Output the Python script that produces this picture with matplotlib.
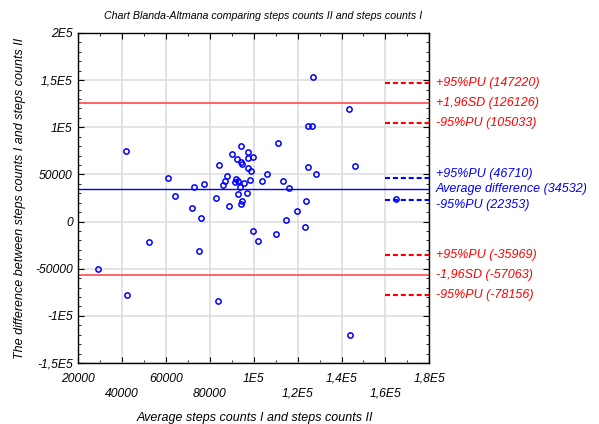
import matplotlib
matplotlib.use("Agg")
import matplotlib.pyplot as plt
from matplotlib.ticker import MultipleLocator

plt.rcParams["font.family"] = ["Liberation Sans", "DejaVu Sans"]
plt.rcParams["font.style"] = "italic"

# averages (x) and differences (y)
avg_steps = [126800, 143500, 124500, 126400, 41800, 111200, 94100, 90000, 97300, 99800,
             92400, 97300, 94100, 94700, 84200, 97300, 98800, 124700, 146000, 106100,
             128300, 60900, 88000, 86800, 92000, 92900, 91500, 98300, 103900, 113300,
             85800, 77100, 72900, 95600, 93500, 115900, 64100, 93000, 96700, 82600,
             94700, 94100, 88900, 123600, 71800, 119500, 76100, 114700, 123200, 99800,
             110100, 102000, 52100, 75000, 28800, 42300, 83800, 143900, 165000]
diff_steps = [153000, 119900, 101500, 101500, 74800, 83200, 79700, 71200, 73700, 68800,
              66300, 67300, 62800, 61000, 59900, 56400, 53600, 57800, 58900, 50400,
              50400, 46500, 48000, 43400, 45100, 42700, 41600, 44400, 43000, 43000,
              39100, 39500, 37000, 40500, 36700, 36000, 27200, 29300, 30700, 24700,
              22200, 18300, 16200, 22200, 14800, 11300, 3900, 1400, -6000, -9500,
              -13400, -20800, -21900, -31700, -50100, -78300, -84300, -119900, 23900]

mean_diff = 34532
sd_upper = 126126
sd_lower = -57063
# 95% limits (lower, upper) of each line
mean_pu = (22353, 46710)
upper_pu = (105033, 147220)
lower_pu = (-78156, -35969)

x_ticks = [20000, 40000, 60000, 80000, 100000, 120000, 140000, 160000, 180000]
x_tick_labels = ["20000", "40000", "60000", "80000", "1E5", "1,2E5", "1,4E5", "1,6E5", "1,8E5"]
y_ticks = [-150000, -100000, -50000, 0, 50000, 100000, 150000, 200000]
y_tick_labels = ["-1,5E5", "-1E5", "-50000", "0", "50000", "1E5", "1,5E5", "2E5"]

RED = "#ff0000"
RED_LINE = "#ff4a4a"
BLUE = "#0000ff"

fig = plt.figure(figsize=(5.99, 4.24), dpi=100)
ax = fig.add_axes([0.1307, 0.1439, 0.5860, 0.7783])

ax.grid(True, which="major", color="#dedede", lw=1.2, zorder=0)
ax.set_axisbelow(True)

ax.axhline(sd_upper, color=RED_LINE, lw=1.2, zorder=2)
ax.axhline(sd_lower, color=RED_LINE, lw=1.2, zorder=2)
ax.axhline(mean_diff, color=BLUE, lw=1.0, zorder=2)

dash = (0, (2.4, 1.4))
for y in upper_pu + lower_pu:
    ax.hlines(y, 160000, 180000, colors=RED, lw=1.5, linestyles=dash, zorder=3)
for y in mean_pu:
    ax.hlines(y, 160000, 180000, colors=BLUE, lw=1.5, linestyles=dash, zorder=3)

ax.plot(avg_steps, diff_steps, "o", ms=3.8, mfc="none", mec=BLUE, mew=1.1, zorder=4)

ax.set_xlim(20000, 180000)
ax.set_ylim(-150000, 200000)
ax.set_xticks(x_ticks)
ax.set_xticklabels(x_tick_labels)
ax.set_yticks(y_ticks)
ax.set_yticklabels(y_tick_labels)
ax.xaxis.set_minor_locator(MultipleLocator(10000))
ax.yaxis.set_minor_locator(MultipleLocator(10000))
ax.tick_params(which="both", direction="in", top=True, right=True, labelsize=8.7)
ax.tick_params(which="major", length=4)
ax.tick_params(which="minor", length=2.5)
ax.tick_params(axis="y", pad=4)
for i, t in enumerate(ax.xaxis.get_major_ticks()):
    t.set_pad(7 if i % 2 == 0 else 18)
for s in ax.spines.values():
    s.set_linewidth(1.0)

# labels on the right of the plot
tr = ax.get_yaxis_transform()
right_labels = [
    ("+95%PU ({})".format(upper_pu[1]), upper_pu[1], RED, 0),
    ("+1,96SD ({})".format(sd_upper), sd_upper, RED, 0),
    ("-95%PU ({})".format(upper_pu[0]), upper_pu[0], RED, 0),
    ("+95%PU ({})".format(mean_pu[1]), mean_pu[1], BLUE, 2.6),
    ("Average difference ({})".format(mean_diff), mean_diff, BLUE, 0),
    ("-95%PU ({})".format(mean_pu[0]), mean_pu[0], BLUE, -3.6),
    ("+95%PU ({})".format(lower_pu[1]), lower_pu[1], RED, 0),
    ("-1,96SD ({})".format(sd_lower), sd_lower, RED, 0),
    ("-95%PU ({})".format(lower_pu[0]), lower_pu[0], RED, 0),
]
for text, y, c, dy in right_labels:
    ax.annotate(text, xy=(1, y), xycoords=tr, xytext=(4.5, dy), textcoords="offset points",
                ha="left", va="center", color=c, fontsize=9, annotation_clip=False)

fig.text(0.439, 0.962, "Chart Blanda-Altmana comparing steps counts II and steps counts I",
         ha="center", va="center", fontsize=7.7)
fig.text(0.4257, 0.0142, "Average steps counts I and steps counts II",
         ha="center", va="center", fontsize=9)
fig.text(0.0334, 0.533, "The difference between steps counts I and steps counts II",
         ha="center", va="center", rotation=90, fontsize=9)

fig.savefig("out.png", dpi=100)
